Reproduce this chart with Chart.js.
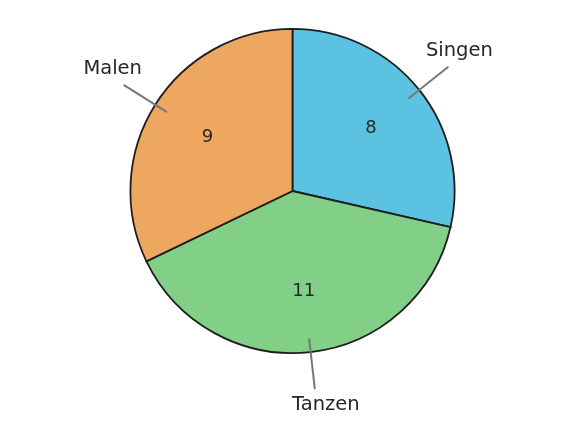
<!DOCTYPE html>
<html>
<head>
<meta charset="utf-8">
<script src="https://cdn.jsdelivr.net/npm/chart.js@4"></script>
<style>
  html, body { margin: 0; padding: 0; background: #fff; }
  #wrap { width: 585px; height: 439px; }
</style>
</head>
<body>
<div id="wrap"><canvas id="myChart"></canvas></div>
<script>
const labels = ["Singen", "Tanzen", "Malen"];
const values = [8, 11, 9];
const colors = ["#5bc2e1", "#82cf88", "#eda75e"];

// draws the numbers inside slices and the names outside with leader lines
const sliceLabels = {
  id: "sliceLabels",
  afterDatasetsDraw(chart) {
    const ctx = chart.ctx;
    const meta = chart.getDatasetMeta(0);
    ctx.save();
    meta.data.forEach((arc, i) => {
      const p = arc.getProps(["x", "y", "startAngle", "endAngle", "outerRadius"], true);
      const mid = (p.startAngle + p.endAngle) / 2;
      const r = p.outerRadius;
      const cos = Math.cos(mid), sin = Math.sin(mid);

      // value inside
      ctx.fillStyle = "#262626";
      ctx.font = "18px 'DejaVu Sans'";
      ctx.textAlign = "center";
      ctx.textBaseline = "middle";
      ctx.fillText(values[i], p.x + cos * r * 0.62, p.y + sin * r * 0.62);

      // leader line
      const ex = p.x + cos * r * 1.23, ey = p.y + sin * r * 1.23;
      ctx.strokeStyle = "#777777";
      ctx.lineWidth = 2;
      ctx.beginPath();
      ctx.moveTo(p.x + cos * r * 0.915, p.y + sin * r * 0.915);
      ctx.lineTo(ex, ey);
      ctx.stroke();

      // name outside, shifted diagonally away from the line end
      ctx.font = "19.5px 'DejaVu Sans'";
      ctx.fillText(labels[i], ex + Math.sign(cos) * 11, ey + Math.sign(sin) * 16);
    });
    ctx.restore();
  }
};

const ctx = document.getElementById("myChart");

const pieChart = new Chart(ctx, {
  type: "pie",
  data: {
    labels: labels,
    datasets: [{
      data: values,
      backgroundColor: colors,
      borderColor: "#1e1e1e",
      borderWidth: 1.8,
      borderJoinStyle: "miter"
    }]
  },
  options: {
    responsive: true,
    maintainAspectRatio: false,
    animation: false,
    layout: {
      padding: { top: 28, bottom: 85, left: 0, right: 0 }
    },
    plugins: {
      legend: { display: false },
      tooltip: { enabled: false }
    }
  },
  plugins: [sliceLabels]
});
</script>
</body>
</html>
